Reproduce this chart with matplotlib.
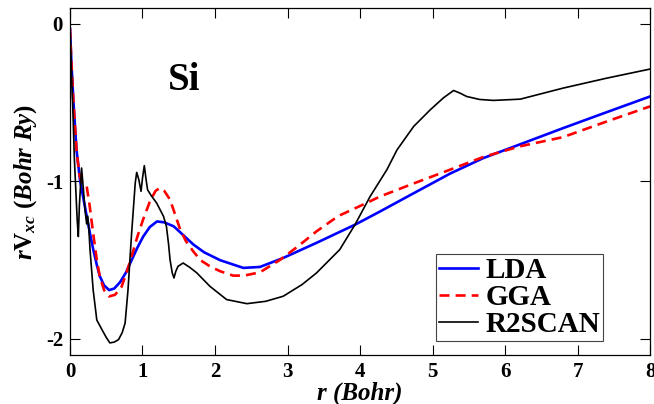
import matplotlib
matplotlib.use("Agg")
import matplotlib.pyplot as plt

plt.rcParams['font.family'] = ['Liberation Serif', 'DejaVu Serif']
plt.rcParams['font.weight'] = 'bold'
plt.rcParams['axes.unicode_minus'] = False
plt.rcParams['mathtext.fontset'] = 'custom'
plt.rcParams['mathtext.rm'] = 'Liberation Serif:bold'
plt.rcParams['mathtext.it'] = 'Liberation Serif:italic:bold'
plt.rcParams['mathtext.bf'] = 'Liberation Serif:bold'

# LDA
lda_r = [0.0, 0.02, 0.046, 0.09, 0.138, 0.19, 0.23, 0.28, 0.32, 0.37, 0.41, 0.47,
         0.54, 0.61, 0.69, 0.77, 0.85, 0.93, 1.01, 1.10, 1.20, 1.30, 1.43, 1.56,
         1.70, 1.85, 2.07, 2.39, 2.62, 2.94, 3.40, 3.93, 4.28, 4.70, 5.24, 5.70,
         6.20, 6.80, 7.40, 8.0]
lda_v = [-0.03, -0.25, -0.48, -0.80, -0.99, -1.12, -1.22, -1.34, -1.43, -1.53, -1.60, -1.66,
         -1.69, -1.68, -1.64, -1.58, -1.50, -1.42, -1.35, -1.29, -1.254, -1.26, -1.285, -1.34,
         -1.40, -1.45, -1.50, -1.549, -1.543, -1.486, -1.39, -1.275, -1.19, -1.085, -0.951, -0.852,
         -0.766, -0.662, -0.561, -0.461]

# GGA
gga_r = [0.0, 0.02, 0.046, 0.09, 0.13, 0.16, 0.19, 0.23, 0.27, 0.32, 0.37, 0.41,
         0.47, 0.54, 0.62, 0.71, 0.78, 0.85, 0.93, 1.01, 1.10, 1.18, 1.24, 1.30,
         1.38, 1.45, 1.52, 1.60, 1.70, 1.80, 1.93, 2.07, 2.25, 2.40, 2.62, 2.90,
         3.15, 3.40, 3.70, 4.09, 4.28, 4.70, 5.24, 5.70, 6.20, 6.80, 7.40, 8.0]
gga_v = [-0.03, -0.25, -0.48, -0.80, -0.96, -1.00, -1.01, -1.03, -1.15, -1.33, -1.50, -1.60,
         -1.69, -1.73, -1.72, -1.67, -1.58, -1.475, -1.35, -1.24, -1.13, -1.06, -1.042, -1.06,
         -1.116, -1.21, -1.306, -1.38, -1.444, -1.50, -1.539, -1.57, -1.598, -1.598, -1.577, -1.497,
         -1.41, -1.317, -1.22, -1.137, -1.095, -1.02, -0.926, -0.845, -0.778, -0.719, -0.62, -0.524]

# R2SCAN
scan_r = [0.0, 0.02, 0.04, 0.06, 0.08, 0.10, 0.115, 0.13, 0.16, 0.185, 0.207, 0.23,
          0.245, 0.26, 0.276, 0.32, 0.37, 0.44, 0.50, 0.55, 0.61, 0.67, 0.72, 0.76,
          0.80, 0.85, 0.90, 0.92, 0.95, 0.98, 1.00, 1.025, 1.05, 1.07, 1.12, 1.195,
          1.29, 1.33, 1.36, 1.38, 1.41, 1.434, 1.46, 1.49, 1.56, 1.65, 1.75, 1.93,
          2.16, 2.44, 2.70, 2.94, 3.20, 3.40, 3.72, 3.93, 4.14, 4.37, 4.51, 4.74,
          4.97, 5.15, 5.29, 5.38, 5.47, 5.65, 5.84, 6.21, 6.80, 7.40, 8.0]
scan_v = [-0.02, -0.30, -0.55, -0.85, -1.05, -1.25, -1.35, -1.15, -0.915, -1.05, -1.18, -1.27,
          -1.22, -1.30, -1.43, -1.69, -1.88, -1.94, -1.99, -2.025, -2.02, -2.004, -1.96, -1.90,
          -1.69, -1.33, -1.01, -0.943, -0.99, -1.063, -0.98, -0.90, -0.99, -1.053, -1.09, -1.137,
          -1.222, -1.285, -1.40, -1.497, -1.58, -1.613, -1.57, -1.539, -1.518, -1.545, -1.581, -1.666,
          -1.75, -1.776, -1.761, -1.729, -1.655, -1.581, -1.433, -1.275, -1.095, -0.926, -0.80, -0.651,
          -0.545, -0.47, -0.423, -0.44, -0.461, -0.48, -0.486, -0.478, -0.408, -0.345, -0.287]

fig = plt.figure(figsize=(6.54, 4.04), dpi=100)
ax = fig.add_axes([0.107, 0.122, 0.887, 0.858])

ax.plot(lda_r, lda_v, color='#0000ff', lw=1.9, label='LDA')
ax.plot(gga_r, gga_v, color='#ff0000', lw=1.9, linestyle=(0, (3.8, 2.3)), label='GGA')
ax.plot(scan_r, scan_v, color='black', lw=1.2, label='R2SCAN')

ax.set_xlim(0, 8)
ax.set_ylim(-2.1, 0.1)
ax.set_xticks(range(0, 9))
ax.set_yticks([0, -1, -2])
ax.tick_params(direction='in', top=True, right=True, length=7, width=0.8,
               labelsize=15, pad=5)
for s in ax.spines.values():
    s.set_linewidth(0.9)

ax.set_xlabel('r (Bohr)', fontstyle='italic', fontweight='bold', fontsize=18, labelpad=0)
ax.set_ylabel(r'$\mathit{r}\mathrm{V}_{\mathit{xc}}\ \mathit{(Bohr\ Ry)}$', fontsize=18, labelpad=5)

ax.text(1.58, -0.36, 'Si', fontsize=28, fontweight='bold', ha='center', va='center')

leg = ax.legend(loc='lower right', bbox_to_anchor=(0.9195, 0.0404), borderaxespad=0,
                fontsize=21, handlelength=1.35, handletextpad=0.25, labelspacing=0.0,
                borderpad=0.1, fancybox=False, framealpha=1, edgecolor='#444444')
leg.get_frame().set_linewidth(0.8)

fig.savefig('out.png', dpi=100)
